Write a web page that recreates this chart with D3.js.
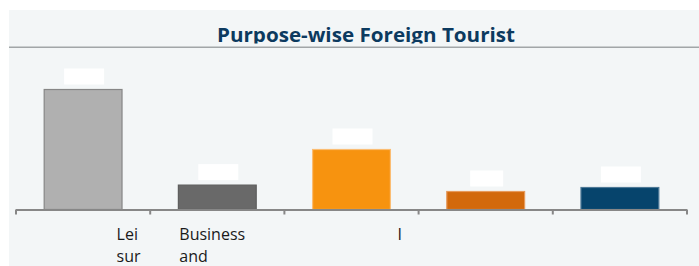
<!DOCTYPE html>
<html>
<head>
<meta charset="utf-8">
<script src="https://cdn.jsdelivr.net/npm/d3@7"></script>
<style>
    html, body { margin: 0; padding: 0; background: #ffffff; }
    svg { display: block; }
</style>
</head>
<body>
<div id="chart"></div>
<script>
// Data
const categories = ['Leisure', 'Business and Professional', 'Incentive', 'Others', 'Visiting'];
const values = [600, 122, 300, 90, 110];
const valueLabels = ['600.0', '122.0', '300.0', '90.0', '110.0'];
// what is left readable of each category label under the axis
const tickLabelLines = [['Lei', 'sur'], ['Business', 'and'], ['I'], [], []];

const colors = ['#b0b0b0', '#696969', '#f7930f', '#d2690c', '#06446c'];
const edgeColors = ['#868686', '#5e5e5e', '#fbbd73', '#e69a5c', '#4d7896'];
// label placement inside each band (offset from band centre)
const labelDx = [33.5, -38, 46, 0, 0];

const width = 699, height = 266;
const axisY = 209.5;

const svg = d3.select('#chart').append('svg')
    .attr('width', width)
    .attr('height', height);

// panel
svg.append('rect')
    .attr('x', 9).attr('y', 10)
    .attr('width', width - 9).attr('height', height - 10)
    .attr('fill', '#f3f6f7');

// title (bottom of it is cut off by the header area)
svg.append('clipPath').attr('id', 'title-clip')
    .append('rect').attr('x', 9).attr('y', 10).attr('width', width - 9).attr('height', 33.6);

svg.append('text')
    .attr('clip-path', 'url(#title-clip)')
    .attr('x', 366).attr('y', 41.7)
    .attr('text-anchor', 'middle')
    .attr('font-family', '"Open Sans", sans-serif')
    .attr('font-weight', 'bold')
    .attr('font-size', 19.5)
    .attr('fill', '#0c3a5f')
    .attr('textLength', 298)
    .attr('lengthAdjust', 'spacingAndGlyphs')
    .text('Purpose-wise Foreign Tourist');

svg.append('line')
    .attr('x1', 9).attr('x2', width)
    .attr('y1', 47.3).attr('y2', 47.3)
    .attr('stroke', '#a2a6a8')
    .attr('stroke-width', 1.5);

// scales
const x = d3.scaleBand()
    .domain(categories)
    .range([16, 687])
    .paddingInner(0.42)
    .paddingOuter(0.21);

const y = d3.scaleLinear()
    .domain([0, 700])
    .range([axisY, axisY - 140]);

// bars
svg.append('g').selectAll('rect')
    .data(values)
    .enter()
    .append('rect')
    .attr('x', (d, i) => x(categories[i]))
    .attr('y', d => y(d))
    .attr('width', x.bandwidth())
    .attr('height', d => y(0) - y(d))
    .attr('fill', (d, i) => colors[i])
    .attr('stroke', (d, i) => edgeColors[i])
    .attr('stroke-width', 1.2);

// white value label boxes
svg.append('g').selectAll('rect')
    .data(values)
    .enter()
    .append('rect')
    .attr('x', (d, i) => {
        const w = valueLabels[i].length * 7 + 5;
        return x(categories[i]) + x.bandwidth() / 2 - w / 2 + 1;
    })
    .attr('y', d => y(d) - 21)
    .attr('width', (d, i) => valueLabels[i].length * 7 + 5)
    .attr('height', 16)
    .attr('fill', '#ffffff');

// axis
const step = x.step();
const tickXs = d3.range(categories.length + 1).map(i => 16 + i * step);

svg.append('line')
    .attr('x1', 16).attr('x2', 687)
    .attr('y1', axisY + 0.5).attr('y2', axisY + 0.5)
    .attr('stroke', '#878787')
    .attr('stroke-width', 2);

svg.append('g').selectAll('line')
    .data(tickXs)
    .enter()
    .append('line')
    .attr('x1', d => d).attr('x2', d => d)
    .attr('y1', axisY).attr('y2', axisY + 5)
    .attr('stroke', '#878787')
    .attr('stroke-width', 2);

// tick labels
const labels = svg.append('g')
    .attr('font-family', '"Open Sans", sans-serif')
    .attr('font-size', 16)
    .attr('fill', '#1a1a1a');

tickLabelLines.forEach((lines, i) => {
    const cx = x(categories[i]) + x.bandwidth() / 2 + labelDx[i];
    lines.forEach((line, j) => {
        labels.append('text')
            .attr('x', cx)
            .attr('y', 240 + j * 21.7)
            .text(line);
    });
});
</script>
</body>
</html>
